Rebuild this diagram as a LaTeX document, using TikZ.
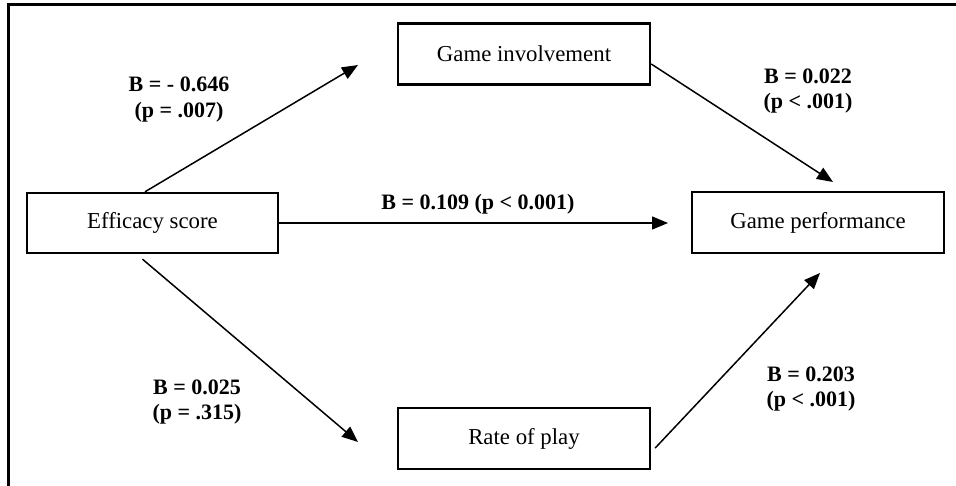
\documentclass[tikz,border=0pt]{standalone}
\usepackage{fontspec}
\setmainfont{Liberation Serif}
\usetikzlibrary{arrows.meta}
\begin{document}
\begin{tikzpicture}[x=1pt,y=-1pt,
  box/.style={draw,line width=2.4pt,minimum width=252pt,minimum height=61pt,inner sep=0pt,font=\fontsize{22.8}{26}\selectfont},
  lab/.style={font=\bfseries\fontsize{22}{25.5}\selectfont,align=center,inner sep=0pt},
  arr/.style={line width=1.5pt,-{Triangle[length=16pt,width=13pt]}}]
\useasboundingbox (0,0) rectangle (956,486);
\draw[line width=3pt] (8,486) -- (8,5) -- (956,5);
\node[box] (gi) at (524,54) {Game involvement};
\node[box,minimum width=251pt,minimum height=60pt] (es) at (152.5,223) {Efficacy score};
\node[box] (gp) at (818,222.5) {Game performance};
\node[box] (rp) at (524,438.5) {Rate of play};
\coordinate (t1) at (358,65);
\coordinate (t2) at (833,182);
\coordinate (t3) at (668,223);
\coordinate (t4) at (358,442);
\coordinate (t5) at (820,273);
\draw[arr] ([xshift=-7.5pt]es.north) -- (t1);
\draw[arr] ([yshift=-10pt]gi.east) -- (t2);
\draw[arr] (es.east) -- (t3);
\draw[arr] ([xshift=-10pt,yshift=-5pt]es.south) -- (t4);
\draw[arr] ([xshift=4pt,yshift=-9.5pt]rp.east) -- (t5);
\node[lab] (l1) at (179,99.5) {B = - 0.646\\(p = .007)};
\node[lab] (l2) at (808,91) {B = 0.022\\(p < .001)};
\node[lab] (l3) at (197,402) {B = 0.025\\(p = .315)};
\node[lab] (l4) at (811,389) {B = 0.203\\(p < .001)};
\node[lab] (l5) at (478,204) {B = 0.109 (p < 0.001)};
\end{tikzpicture}
\end{document}
